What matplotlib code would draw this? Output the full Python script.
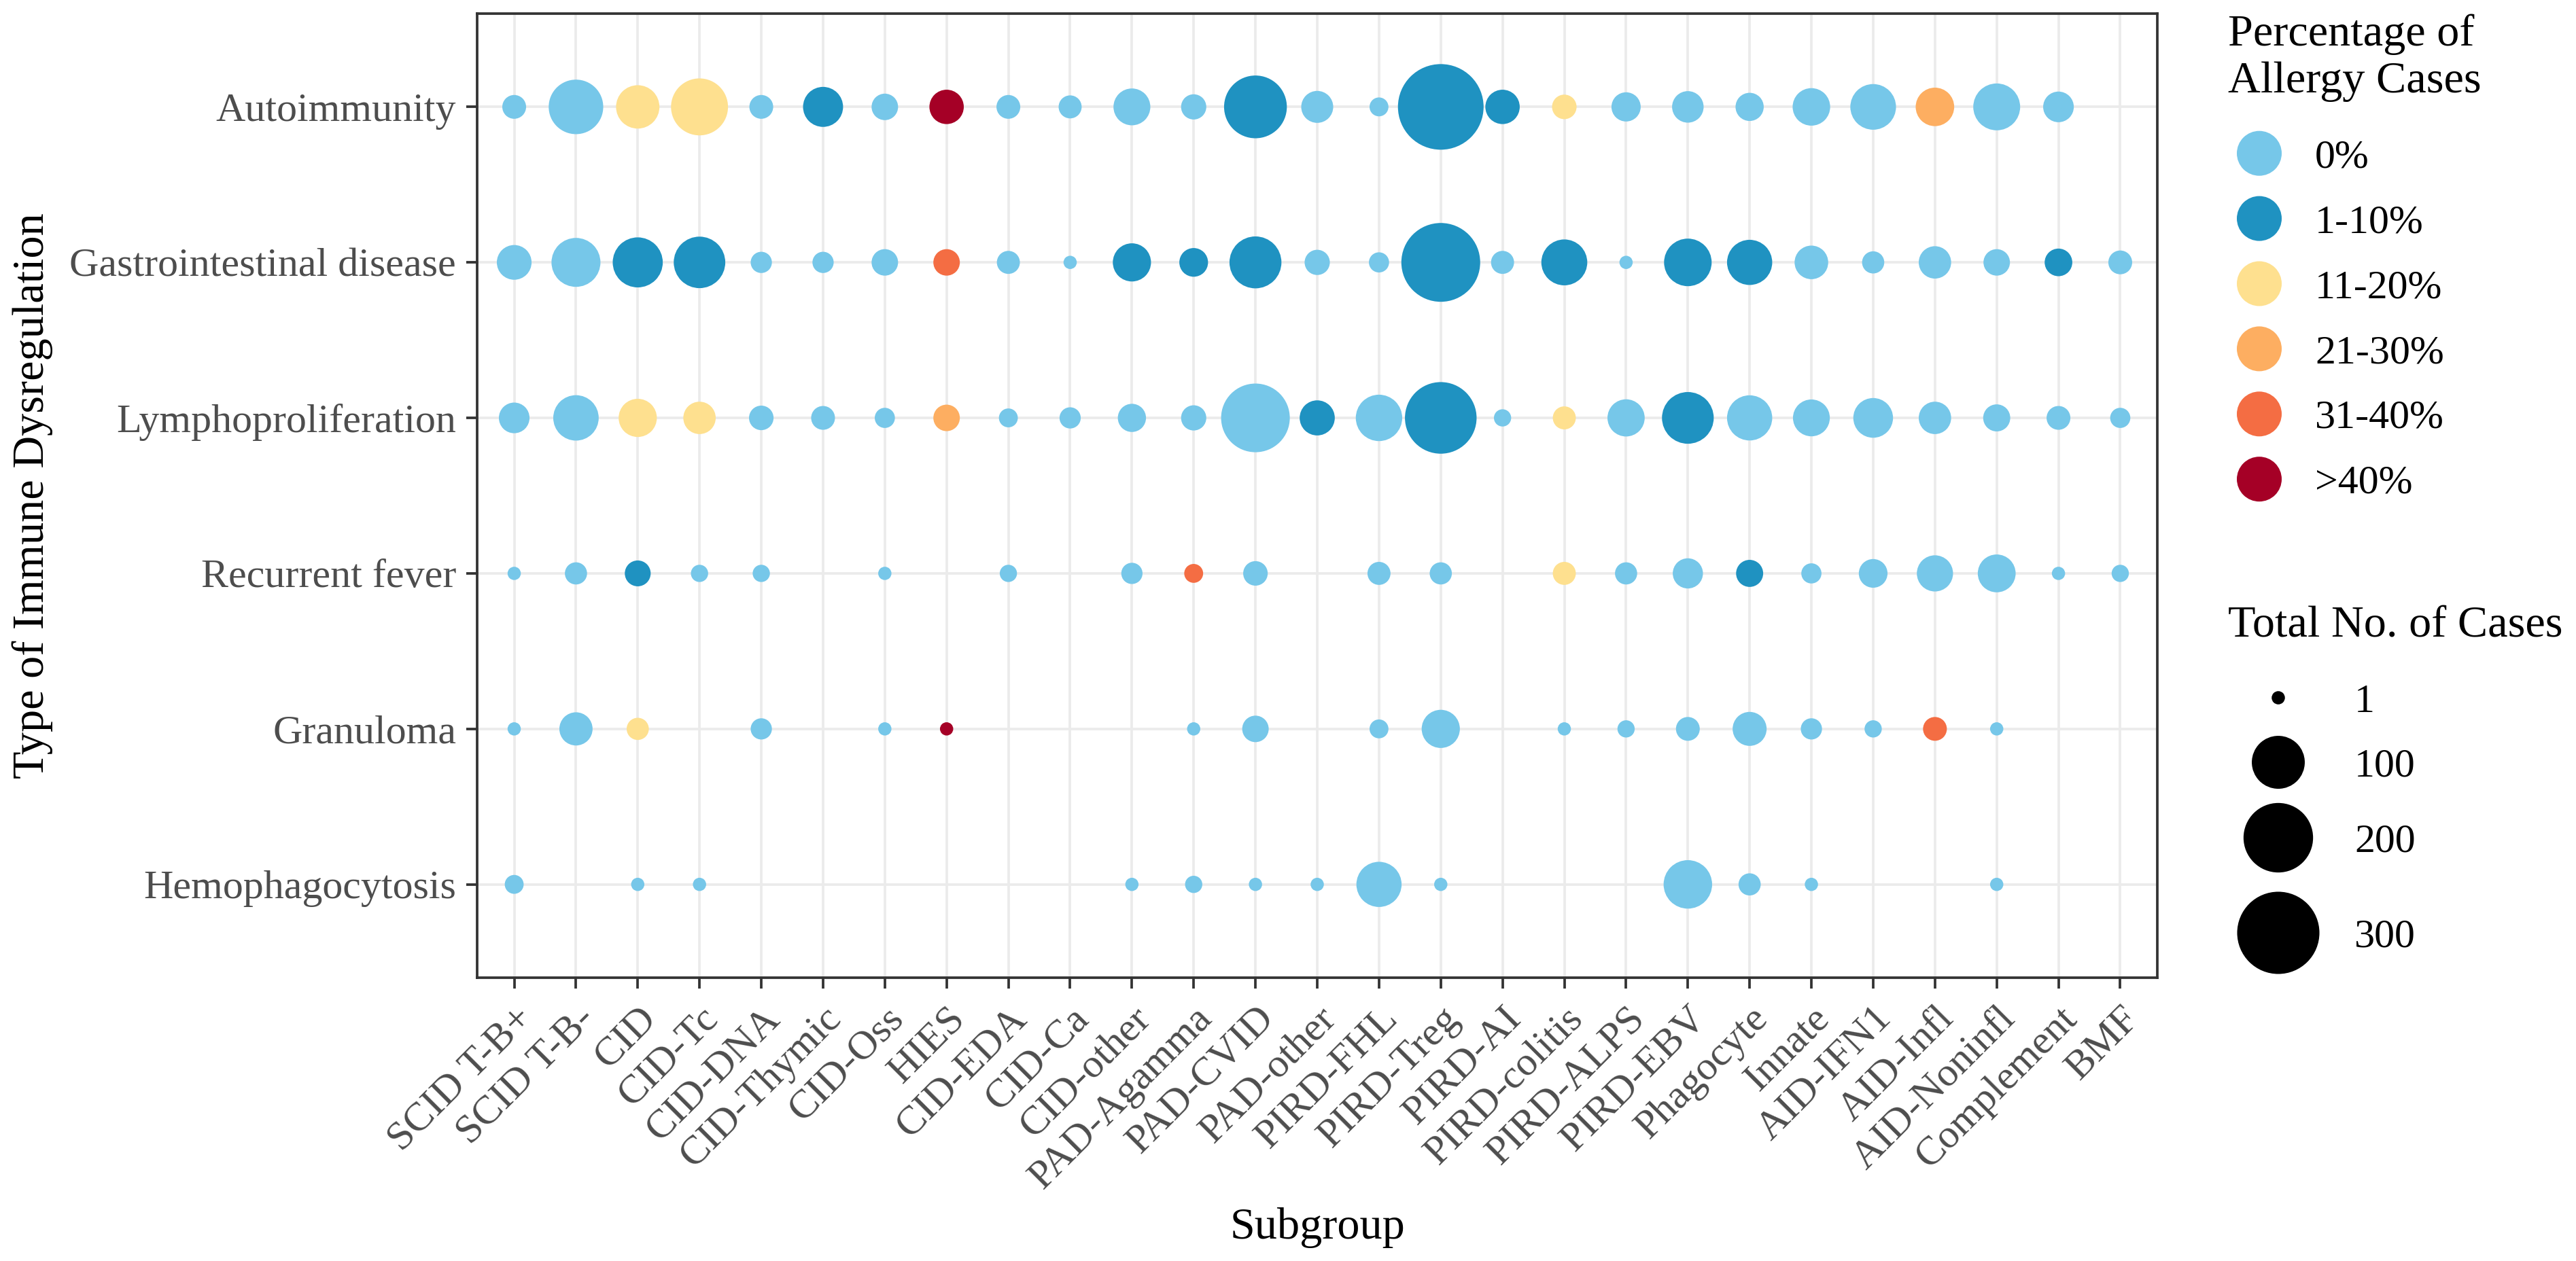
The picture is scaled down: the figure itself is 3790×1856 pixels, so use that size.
import numpy as np
import matplotlib
matplotlib.use("Agg")
import matplotlib.pyplot as plt

# ---------------- data ----------------
subgroups = ["SCID T-B+", "SCID T-B-", "CID", "CID-Tc", "CID-DNA", "CID-Thymic", "CID-Oss",
             "HIES", "CID-EDA", "CID-Ca", "CID-other", "PAD-Agamma", "PAD-CVID", "PAD-other",
             "PIRD-FHL", "PIRD-Treg", "PIRD-AI", "PIRD-colitis", "PIRD-ALPS", "PIRD-EBV",
             "Phagocyte", "Innate", "AID-IFN1", "AID-Infl", "AID-Noninfl", "Complement", "BMF"]

dysregulation = ["Autoimmunity", "Gastrointestinal disease", "Lymphoproliferation",
                 "Recurrent fever", "Granuloma", "Hemophagocytosis"]

# total number of cases per subgroup (0 = no point)
cases_autoimmunity = [8, 108, 58, 121, 8, 46, 12, 29, 8, 7, 36, 10, 155, 23, 3, 330, 29, 9,
                      17, 22, 15, 38, 67, 41, 72, 20, 0]
cases_gastro = [30, 81, 86, 93, 5, 5, 12, 12, 7, 1, 40, 16, 95, 10, 4, 271, 7, 68,
                1, 75, 65, 27, 6, 24, 12, 14, 8]
cases_lympho = [20, 66, 40, 24, 9, 8, 4, 12, 3, 5, 15, 10, 194, 31, 70, 215, 2, 7,
                37, 94, 65, 36, 45, 24, 13, 8, 4]
cases_fever = [1, 6, 11, 2, 2, 0, 1, 0, 2, 0, 5, 3, 9, 0, 7, 6, 0, 7,
               6, 19, 13, 4, 16, 34, 39, 1, 2]
cases_granuloma = [1, 26, 6, 0, 5, 0, 1, 1, 0, 0, 0, 1, 12, 0, 3, 40, 0, 1,
                   2, 8, 28, 5, 2, 8, 1, 0, 0]
cases_hemo = [3, 0, 1, 1, 0, 0, 0, 0, 0, 0, 1, 2, 1, 1, 65, 1, 0, 0,
              0, 79, 6, 1, 0, 0, 1, 0, 0]

# percentage-of-allergy class per subgroup (None = no point)
allergy_autoimmunity = ["0%", "0%", "11-20%", "11-20%", "0%", "1-10%", "0%", ">40%", "0%", "0%",
                        "0%", "0%", "1-10%", "0%", "0%", "1-10%", "1-10%", "11-20%", "0%", "0%",
                        "0%", "0%", "0%", "21-30%", "0%", "0%", None]
allergy_gastro = ["0%", "0%", "1-10%", "1-10%", "0%", "0%", "0%", "31-40%", "0%", "0%",
                  "1-10%", "1-10%", "1-10%", "0%", "0%", "1-10%", "0%", "1-10%", "0%", "1-10%",
                  "1-10%", "0%", "0%", "0%", "0%", "1-10%", "0%"]
allergy_lympho = ["0%", "0%", "11-20%", "11-20%", "0%", "0%", "0%", "21-30%", "0%", "0%",
                  "0%", "0%", "0%", "1-10%", "0%", "1-10%", "0%", "11-20%", "0%", "1-10%",
                  "0%", "0%", "0%", "0%", "0%", "0%", "0%"]
allergy_fever = ["0%", "0%", "1-10%", "0%", "0%", None, "0%", None, "0%", None,
                 "0%", "31-40%", "0%", None, "0%", "0%", None, "11-20%", "0%", "0%",
                 "1-10%", "0%", "0%", "0%", "0%", "0%", "0%"]
allergy_granuloma = ["0%", "0%", "11-20%", None, "0%", None, "0%", ">40%", None, None,
                     None, "0%", "0%", None, "0%", "0%", None, "0%", "0%", "0%",
                     "0%", "0%", "0%", "31-40%", "0%", None, None]
allergy_hemo = ["0%", None, "0%", "0%", None, None, None, None, None, None,
                "0%", "0%", "0%", "0%", "0%", "0%", None, None, None, "0%",
                "0%", "0%", None, None, "0%", None, None]

allergy_levels = ["0%", "1-10%", "11-20%", "21-30%", "31-40%", ">40%"]
level_colors = ["#76C7E9", "#1F92C1", "#FEE08F", "#FDAE61", "#F46D43", "#A50026"]
size_breaks = [1, 100, 200, 300]

rows_cases = [cases_autoimmunity, cases_gastro, cases_lympho, cases_fever, cases_granuloma, cases_hemo]
rows_allergy = [allergy_autoimmunity, allergy_gastro, allergy_lympho, allergy_fever,
                allergy_granuloma, allergy_hemo]

# ---------------- styling ----------------
plt.rcParams['font.family'] = ['Liberation Serif', 'DejaVu Serif']
W, H, DPI = 3790, 1856, 300
TICK_FS = 14.4
TITLE_FS = 15.9
GREY30 = "#4D4D4D"
GREY20 = "#333333"
LW = 0.9


def pt(px):
    return px * 72.0 / DPI


all_counts = [c for r in rows_cases for c in r if c > 0]
cmin, cmax = min(all_counts), max(all_counts)
D_MIN, D_MAX = 19.5, 126.0   # point diameter range in pixels


def diam_px(c):
    c = np.asarray(c, dtype=float)
    return D_MIN + (D_MAX - D_MIN) * np.sqrt((c - cmin) / (cmax - cmin))


color_of = dict(zip(allergy_levels, level_colors))

fig = plt.figure(figsize=(W / DPI, H / DPI), dpi=DPI)
fig.patch.set_facecolor("white")

PL, PR, PT, PB = 702, 3174, 20, 1439
ax = fig.add_axes([PL / W, 1 - PB / H, (PR - PL) / W, (PB - PT) / H])

nx, ny = len(subgroups), len(dysregulation)
for yi, (cases, allergy) in enumerate(zip(rows_cases, rows_allergy)):
    xs = [i for i, c in enumerate(cases) if c > 0]
    cs = [cases[i] for i in xs]
    cols = [color_of[allergy[i]] for i in xs]
    sizes = pt(diam_px(cs)) ** 2
    ax.scatter(xs, [yi] * len(xs), s=sizes, c=cols, linewidths=0, zorder=3)

ax.set_xlim(-0.6, nx - 1 + 0.6)
ax.set_ylim(ny - 1 + 0.6, -0.6)
ax.set_xticks(range(nx))
ax.set_yticks(range(ny))
ax.set_xticklabels(subgroups, rotation=45, ha='right', va='top', rotation_mode='anchor',
                   fontsize=TICK_FS, color=GREY30)
ax.set_yticklabels(dysregulation, fontsize=TICK_FS, color=GREY30)
ax.grid(True, color="#EBEBEB", linewidth=LW, zorder=0)
ax.set_axisbelow(True)
for sp in ax.spines.values():
    sp.set_color(GREY20)
    sp.set_linewidth(LW)
ax.tick_params(axis='both', length=pt(16), width=LW, color=GREY20)
ax.tick_params(axis='y', pad=pt(15))
ax.tick_params(axis='x', pad=pt(17))

# axis titles
fig.text(((PL + PR) / 2) / W, 1 - 1807 / H, "Subgroup", ha='center', va='center',
         fontsize=TITLE_FS, color='black')
fig.text(48 / W, 1 - ((PT + PB) / 2) / H, "Type of Immune Dysregulation", ha='center',
         va='center', rotation=90, fontsize=TITLE_FS, color='black')

# ---------------- legends (overlay in pixel coordinates) ----------------
lax = fig.add_axes([0, 0, 1, 1], facecolor='none')
lax.set_xlim(0, W)
lax.set_ylim(H, 0)
lax.axis('off')

em = TICK_FS * DPI / 72.0
# colour legend
lax.text(3278, 67, "Percentage of", ha='left', va='baseline', fontsize=TITLE_FS)
lax.text(3278, 136, "Allergy Cases", ha='left', va='baseline', fontsize=TITLE_FS)
key_y = [225.7 + 95.9 * k for k in range(len(allergy_levels))]
lax.scatter([3324] * len(key_y), key_y, s=pt(66) ** 2, c=level_colors, linewidths=0)
for yk, lab in zip(key_y, allergy_levels):
    lax.text(3406, yk + 0.345 * em, lab, ha='left', va='baseline', fontsize=TICK_FS)

# size legend
lax.text(3278, 937, "Total No. of Cases", ha='left', va='baseline', fontsize=TITLE_FS)
size_y = [1027, 1122, 1233, 1373]
lax.scatter([3352] * len(size_breaks), size_y, s=pt(diam_px(size_breaks)) ** 2, c='black',
            linewidths=0)
for yk, b in zip(size_y, size_breaks):
    lax.text(3464, yk + 0.345 * em, str(b), ha='left', va='baseline', fontsize=TICK_FS)

fig.savefig("out.png", dpi=DPI, facecolor='white')
